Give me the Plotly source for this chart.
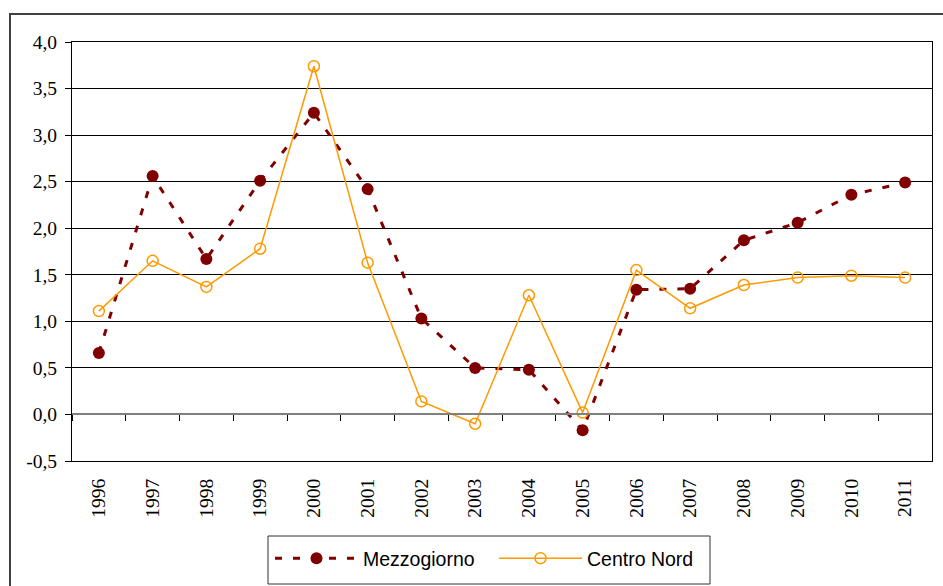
import plotly.graph_objects as go

# Anni sull'asse delle categorie
years = [str(y) for y in range(1996, 2012)]

# Variazioni percentuali annue
mezzogiorno = [0.66, 2.56, 1.67, 2.51, 3.24, 2.42, 1.03, 0.50, 0.48, -0.17,
               1.34, 1.35, 1.87, 2.06, 2.36, 2.49]
centro_nord = [1.11, 1.65, 1.37, 1.78, 3.74, 1.63, 0.14, -0.10, 1.28, 0.02,
               1.55, 1.14, 1.39, 1.47, 1.49, 1.47]

# Etichette dell'asse verticale (virgola decimale)
y_ticks = [-0.5, 0.0, 0.5, 1.0, 1.5, 2.0, 2.5, 3.0, 3.5, 4.0]
y_tick_labels = ["-0,5", "0,0", "0,5", "1,0", "1,5", "2,0", "2,5", "3,0", "3,5", "4,0"]

SERIF = "Liberation Serif, Times New Roman, serif"
SANS = "Liberation Sans, Arial, sans-serif"
MAROON = "#800000"
ORANGE = "#FF9900"

W, H = 943, 586
# Plot area in pixels: x 72..932, y 42..461
PL, PR, PT, PB = 72, 932, 42, 461


def px_x(v):
    return (v - PL) / (PR - PL)


def px_y(v):
    return (PB - v) / (PB - PT)


fig = go.Figure()

fig.add_trace(go.Scatter(
    x=years, y=mezzogiorno, name="Mezzogiorno", mode="lines+markers",
    line=dict(color=MAROON, width=3, dash="7px,11px"),
    marker=dict(symbol="circle", size=12, color=MAROON),
))
fig.add_trace(go.Scatter(
    x=years, y=centro_nord, name="Centro Nord", mode="lines+markers",
    line=dict(color=ORANGE, width=1.5),
    marker=dict(symbol="circle-open", size=11, color=ORANGE,
                line=dict(width=1.5, color=ORANGE)),
))
# Carrier for the zero-line category axis (not visible)
fig.add_trace(go.Scatter(
    x=years, y=centro_nord, xaxis="x2", mode="lines",
    line=dict(width=0, color="rgba(0,0,0,0)"), opacity=0,
    showlegend=False, hoverinfo="skip",
))

fig.update_layout(
    width=W, height=H,
    margin=dict(l=PL, r=W - PR, t=PT, b=H - PB, autoexpand=False),
    paper_bgcolor="white", plot_bgcolor="white",
    showlegend=True,
    legend=dict(
        orientation="h", xref="container", yref="container",
        x=270 / W, xanchor="left", y=(H - 539) / H, yanchor="top",
        font=dict(family=SANS, size=19.5, color="black"),
        borderwidth=0, bgcolor="rgba(0,0,0,0)",
        itemwidth=83, entrywidth=126, entrywidthmode="pixels",
    ),
    xaxis=dict(
        type="category", categoryarray=years, range=[-0.5, 15.5],
        tickangle=-90, ticks="", ticklabelstandoff=9, automargin=False,
        tickfont=dict(family=SERIF, size=19.5, color="black"),
        showgrid=False, zeroline=False,
        showline=True, linecolor="black", linewidth=1, mirror=True,
    ),
    xaxis2=dict(
        type="category", categoryarray=years, range=[-0.5, 15.5],
        overlaying="x", anchor="free", position=0.5 / 4.5, side="bottom",
        ticks="outside", tickson="boundaries", ticklen=6, tickwidth=1,
        tickcolor="black", showticklabels=False, showgrid=False,
        zeroline=False, showline=True, linecolor="#808080", linewidth=2,
        automargin=False,
    ),
    yaxis=dict(
        range=[-0.5, 4.0], tickvals=y_ticks, ticktext=y_tick_labels,
        ticks="outside", ticklen=6, tickcolor="black", ticklabelstandoff=4,
        tickfont=dict(family=SERIF, size=19.5, color="black"),
        showgrid=True, gridcolor="black", gridwidth=1, zeroline=False,
        showline=True, linecolor="black", linewidth=1, mirror=True,
        automargin=False,
    ),
    shapes=[
        # outer chart frame
        dict(type="rect", xref="paper", yref="paper",
             x0=px_x(10), x1=1.05, y0=-0.4, y1=px_y(14),
             line=dict(color="#404040", width=2), fillcolor="rgba(0,0,0,0)",
             layer="below"),
        # legend frame
        dict(type="rect", xref="paper", yref="paper",
             x0=px_x(268), x1=px_x(710), y0=px_y(584), y1=px_y(536),
             line=dict(color="#303030", width=1), fillcolor="white",
             layer="below"),
    ],
)

fig.write_html("out.html")
